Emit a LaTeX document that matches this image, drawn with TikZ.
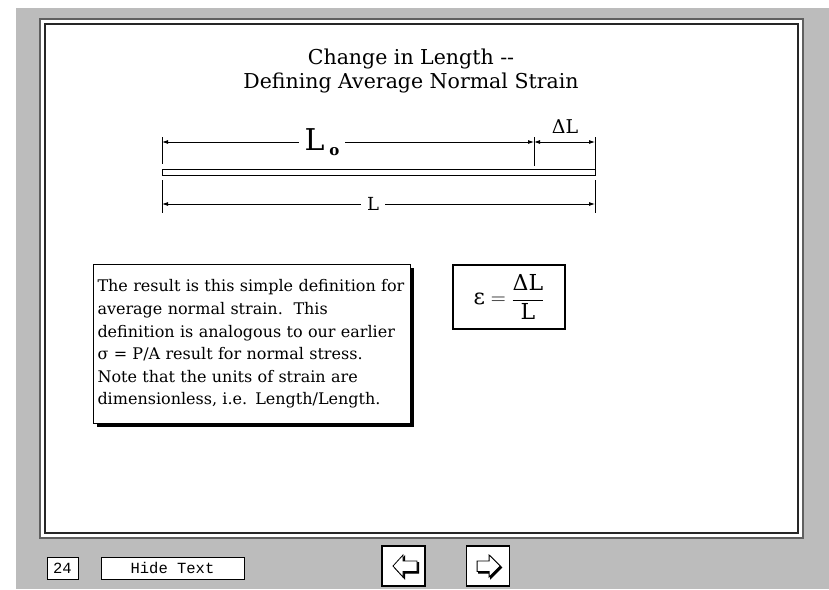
\documentclass[tikz,border=0pt]{standalone}
\usepackage{fontspec}
\setmainfont{DejaVu Serif}
\setmonofont{Liberation Mono}
\usetikzlibrary{arrows.meta, positioning, shadows}
\definecolor{stipple}{RGB}{188,188,188}
\definecolor{framegray}{RGB}{95,95,95}
\tikzset{
  dimline/.style={{Latex[length=6pt,width=4pt]}-{Latex[length=6pt,width=4pt]}, line width=0.8pt},
  tickline/.style={line width=0.8pt},
  dimlabel/.style={fill=white, inner xsep=6pt, inner ysep=1pt},
  barbox/.style={rectangle, draw, line width=0.9pt, fill=white, inner sep=0pt},
  notebox/.style={rectangle, draw, line width=1pt, fill=white,
                  drop shadow={shadow xshift=3pt, shadow yshift=-3pt, fill=black, opacity=1},
                  align=left, text width=309pt, inner xsep=4pt, minimum height=159pt,
                  font=\fontsize{16}{22.6}\selectfont},
  eqbox/.style={rectangle, draw, line width=1.6pt, fill=white,
                minimum width=112pt, minimum height=64pt,
                font=\fontsize{22}{26}\selectfont},
  pagebox/.style={rectangle, draw, line width=1pt, fill=white,
                  minimum height=22pt, inner sep=2pt, font=\ttfamily\fontsize{15.5}{16}\selectfont},
  navbox/.style={rectangle, draw, line width=1.6pt, fill=white,
                 minimum width=43pt, minimum height=40pt},
  navshade/.style={fill=black, draw=black, line width=1pt},
  navarrow/.style={fill=white, draw=black, line width=0.8pt, line join=miter},
}

\begin{document}
\begin{tikzpicture}[x=1pt, y=-1pt]
  \useasboundingbox (0,0) rectangle (829,589);

  % backdrop and slide frame
  \fill[stipple] (16,8) rectangle (829,589);
  \draw[framegray, line width=1.6pt, fill=white] (40,19) rectangle (803,538);
  \draw[black!85, line width=1.4pt] (45,24) rectangle (798,533);

  % title
  \node[align=center, font=\fontsize{20.5}{24}\selectfont] (title) at (411,71)
    {Change in Length -{}-\\Defining Average Normal Strain};

  % bar with its dimensions
  \node[barbox, minimum width=433pt, minimum height=6pt] (bar) at (378.5,172.5) {};

  \coordinate (lo-a) at (162,142);
  \coordinate (lo-b) at (534,142);
  \coordinate (lo-c) at (595,142);
  \coordinate (l-a)  at (162,204);
  \coordinate (l-b)  at (595,204);

  \draw[tickline] (162,137) -- (162,164);
  \draw[tickline] (534,137) -- (534,166);
  \draw[tickline] (595,137) -- (595,169);
  \draw[tickline] (162,180) -- (162,213);
  \draw[tickline] (595,180) -- (595,213);

  \draw[dimline] (lo-a) -- (lo-b);
  \draw[dimline] (lo-b) -- (lo-c);
  \draw[dimline] (l-a) -- (l-b);

  \node[dimlabel, font=\fontsize{30}{32}\selectfont] (lo) at (322,142)
    {L\,\raisebox{-0.3ex}{\fontsize{15}{15}\selectfont\bfseries o}};
  \node[font=\fontsize{19}{20}\selectfont, inner sep=0pt] (dl) at (565,127) {ΔL};
  \node[dimlabel, font=\fontsize{18}{20}\selectfont] (l) at (373,204) {L};

  % explanation and result
  \node[notebox, anchor=north west] (note) at (93,264)
    {The result is this simple definition for\\
     average normal strain.\ \ This\\
     definition is analogous to our earlier\\
     σ = P/A result for normal stress.\\
     Note that the units of strain are\\
     dimensionless, i.e. Length/Length.};

  \node[eqbox] (eq) at (509,297)
    {$\mbox{ε} = \displaystyle\frac{\mbox{ΔL}}{\mbox{L}}$};

  % navigation strip
  \node[pagebox, minimum width=31pt] (page) at (62.5,568) {24};
  \node[pagebox, minimum width=143pt, right=22pt of page] (hide) {Hide Text};
  \node[navbox] (back) at (403.5,566) {};
  \node[navbox, right=40pt of back] (next) {};

  \begin{scope}[shift={(back.center)}]
    \draw[navshade] (-9,1.5) -- (1,-9.5) -- (1,-3.5) -- (15,-3.5) -- (15,7) -- (1,7) -- (1,12.5) -- cycle;
    \draw[navarrow] (-10.5,0) -- (-0.5,-11) -- (-0.5,-5) -- (13.5,-5) -- (13.5,5.5) -- (-0.5,5.5) -- (-0.5,11) -- cycle;
  \end{scope}
  \begin{scope}[shift={(next.center)}]
    \draw[navshade] (13.5,1.5) -- (2.5,-9.5) -- (2.5,-3.5) -- (-9.5,-3.5) -- (-9.5,7) -- (2.5,7) -- (2.5,12.5) -- cycle;
    \draw[navarrow] (12,0) -- (1,-11) -- (1,-5) -- (-11,-5) -- (-11,5.5) -- (1,5.5) -- (1,11) -- cycle;
  \end{scope}
\end{tikzpicture}
\end{document}
